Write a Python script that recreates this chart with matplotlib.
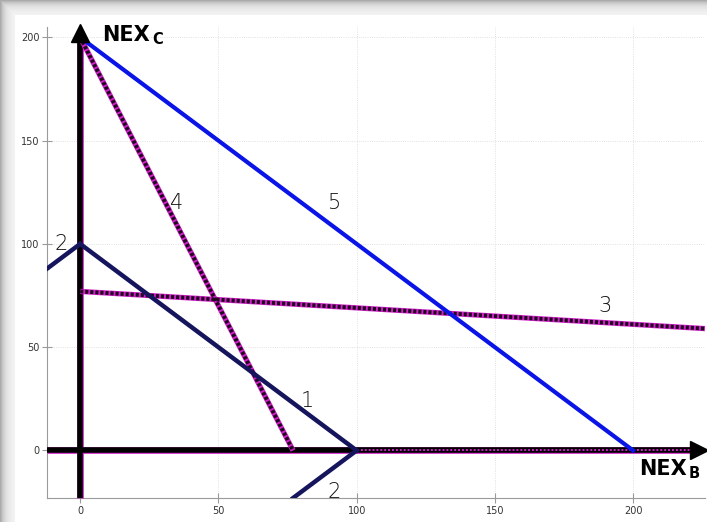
import numpy as np
import matplotlib
matplotlib.use("Agg")
import matplotlib.pyplot as plt

# constraint lines in the (NEX_B, NEX_C) plane, given by their end points
line1_x = [0, 100]
line1_y = [100, 0]
line2a_x = [-12, 0]
line2a_y = [88, 100]
line2b_x = [77, 100]
line2b_y = [-23, 0]
line3_x = [0, 226]
line3_y = [77, 59]
line4_x = [0, 77]
line4_y = [200, 0]
line5_x = [0, 200]
line5_y = [200, 0]
ray_x = [100, 226]      # dotted part along the NEX_B axis
ray_y = [0, 0]

labels = ["1", "2", "2", "3", "4", "5"]
label_x = [82, -7, 92, 190, 35, 92]
label_y = [24, 100, -20, 70, 120, 120]

ticks = [0, 50, 100, 150, 200]

navy = "#15155e"
blue = "#0a14e6"
magenta = "#d020c8"

W, H = 707, 522
fig = plt.figure(figsize=(W / 100, H / 100), dpi=100)

# soft drop shadow around the white panel
bg = fig.add_axes([0, 0, 1, 1], zorder=-10)
px = np.arange(W)[None, :].repeat(H, 0)
py = np.arange(H)[:, None].repeat(W, 1)
edge = 15
d = np.maximum(edge - px, edge - py).astype(float)
shade = np.where(d > 0, 0.97 - 0.3 * np.exp(-(edge - d) / 5.0), 1.0)
shade = np.clip(shade, 0, 1)
bg.imshow(np.dstack([shade] * 3), extent=[0, W, 0, H], aspect="auto")
bg.axis("off")

ax = fig.add_axes([47 / W, 24 / H, 658 / W, 471 / H])
ax.set_xlim(-12, 226)
ax.set_ylim(-23, 205)
ax.set_facecolor("none")

for s in ["top", "right"]:
    ax.spines[s].set_visible(False)
for s in ["left", "bottom"]:
    ax.spines[s].set_color("#9a9a9a")
    ax.spines[s].set_linewidth(0.8)
ax.set_xticks(ticks)
ax.set_yticks(ticks)
ax.tick_params(direction="inout", length=7, pad=2, labelsize=7,
               colors="#9a9a9a", labelcolor="#333333")
ax.grid(True, color="#d8d8d8", linestyle=":", linewidth=0.6)

# coordinate axes with arrow heads, thin magenta fringe underneath
ax.plot([-12, 224], [0, 0], color=magenta, lw=4.8, solid_capstyle="butt",
        zorder=2.9, clip_on=False)
ax.plot([0, 0], [-23, 201], color=magenta, lw=4.8, solid_capstyle="butt",
        zorder=2.9, clip_on=False)
ax.plot([-12, 224], [0, 0], color="black", lw=4.0, solid_capstyle="butt",
        zorder=3, clip_on=False)
ax.plot([0, 0], [-23, 201], color="black", lw=4.0, solid_capstyle="butt",
        zorder=3, clip_on=False)
ax.plot([224], [0], marker=">", ms=13, color="black", clip_on=False, zorder=6)
ax.plot([0], [202], marker="^", ms=13, color="black", clip_on=False, zorder=6)

def dotted(x, y, z=4):
    ax.plot(x, y, color=magenta, lw=3.8, solid_capstyle="butt", zorder=z,
            clip_on=False)
    ax.plot(x, y, color="#200820", lw=2.8, dashes=(0.8, 0.5), zorder=z + 0.1,
            clip_on=False)

ax.plot(ray_x, ray_y, color=magenta, lw=1.4, dashes=(1, 1), zorder=3.5)

ax.plot(line1_x, line1_y, color=navy, lw=3.2, zorder=5)
ax.plot(line2a_x, line2a_y, color=navy, lw=3.2, zorder=5)
ax.plot(line2b_x, line2b_y, color=navy, lw=3.2, zorder=5)
dotted(line3_x, line3_y)
dotted(line4_x, line4_y)
ax.plot(line5_x, line5_y, color=blue, lw=3.0, zorder=5)

for t, x, y in zip(labels, label_x, label_y):
    ax.text(x, y, t, fontsize=15, color="#111111", ha="center", va="center",
            family="DejaVu Sans", fontweight="light", zorder=7)

ax.text(8, 201, "NEX", fontsize=15, fontweight="bold", va="center",
        ha="left", zorder=7)
ax.text(26, 199, "C", fontsize=10.5, fontweight="bold", va="center",
        ha="left", zorder=7)
ax.text(202, -9, "NEX", fontsize=15, fontweight="bold", va="center",
        ha="left", zorder=7)
ax.text(220, -11, "B", fontsize=10.5, fontweight="bold", va="center",
        ha="left", zorder=7)

fig.savefig("out.png", dpi=100)
